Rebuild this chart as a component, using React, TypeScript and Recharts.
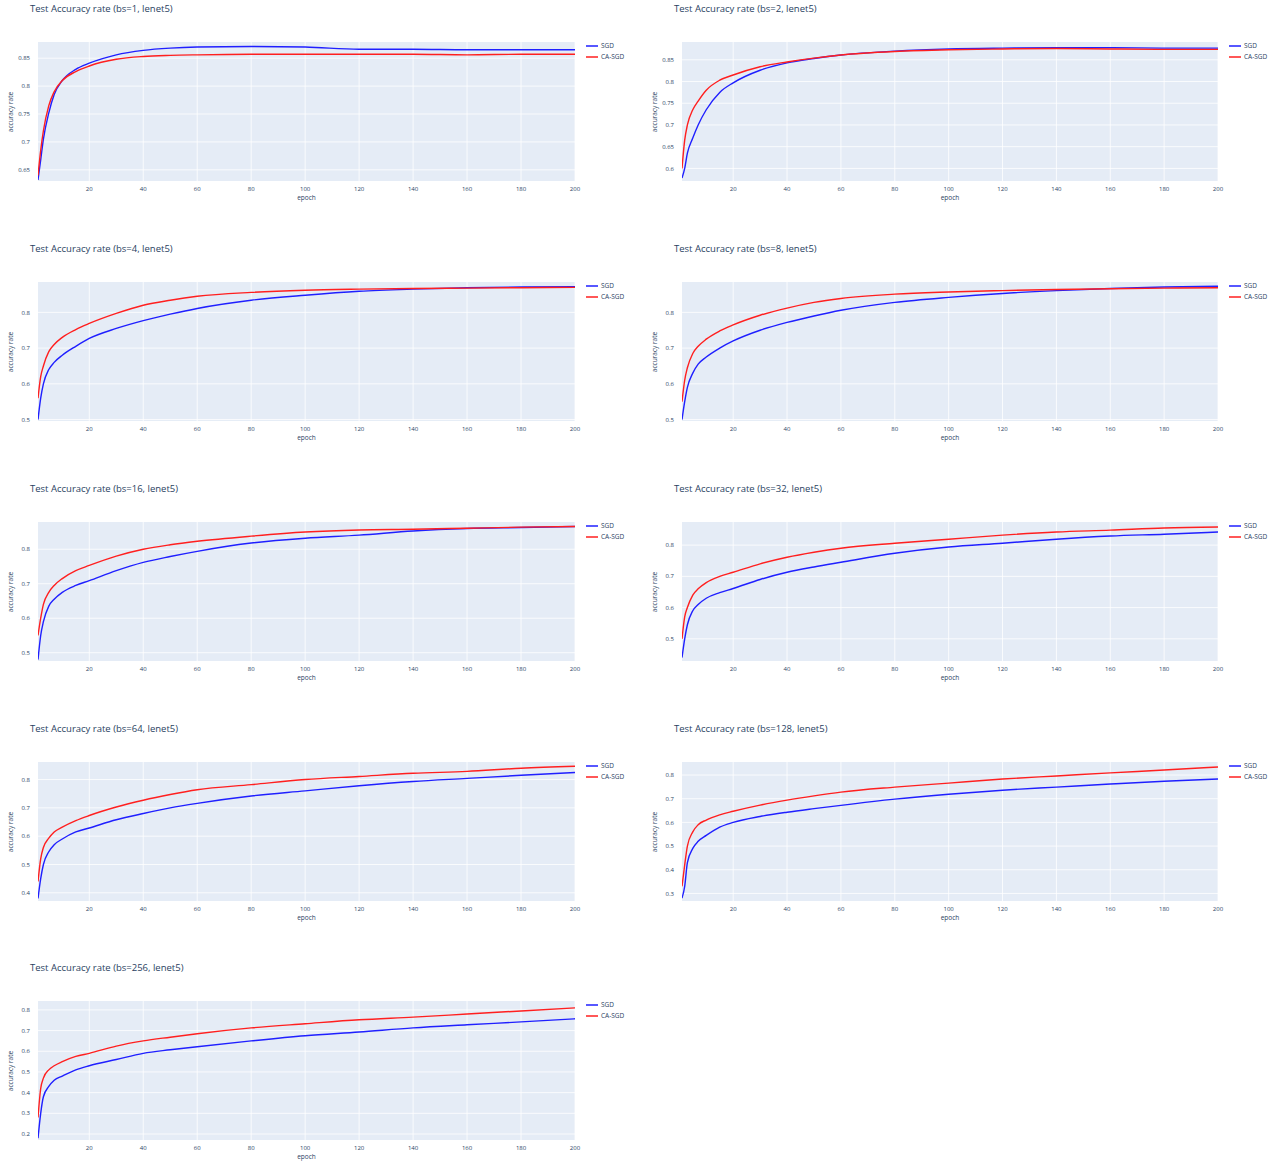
import React from 'react';
import { LineChart, Line, XAxis, YAxis, CartesianGrid } from 'recharts';

const EPOCHS = [1, 2, 3, 5, 7, 10, 15, 20, 30, 40, 50, 60, 80, 100, 120, 140, 160, 180, 200];
const X_TICKS = [20, 40, 60, 80, 100, 120, 140, 160, 180, 200];
const SERIES_NAMES = ['SGD', 'CA-SGD'];
const BATCH_SIZES = [1, 2, 4, 8, 16, 32, 64, 128, 256];

const SGD_BS1 = [0.632, 0.668, 0.705, 0.752, 0.785, 0.81, 0.83, 0.841, 0.856, 0.864, 0.868, 0.87, 0.871, 0.87, 0.866, 0.866, 0.865, 0.865, 0.865];
const CA_BS1 = [0.64, 0.685, 0.72, 0.765, 0.79, 0.81, 0.826, 0.836, 0.848, 0.853, 0.855, 0.856, 0.857, 0.857, 0.857, 0.857, 0.856, 0.857, 0.857];
const SGD_BS2 = [0.578, 0.6, 0.635, 0.67, 0.7, 0.735, 0.775, 0.797, 0.826, 0.843, 0.853, 0.861, 0.87, 0.875, 0.877, 0.878, 0.878, 0.877, 0.877];
const CA_BS2 = [0.6, 0.665, 0.7, 0.735, 0.755, 0.78, 0.803, 0.815, 0.834, 0.845, 0.854, 0.861, 0.869, 0.873, 0.875, 0.876, 0.875, 0.874, 0.874];
const SGD_BS4 = [0.5, 0.56, 0.6, 0.64, 0.66, 0.68, 0.705, 0.727, 0.755, 0.777, 0.795, 0.811, 0.834, 0.848, 0.859, 0.865, 0.869, 0.871, 0.872];
const CA_BS4 = [0.56, 0.62, 0.65, 0.69, 0.71, 0.73, 0.752, 0.769, 0.797, 0.82, 0.834, 0.845, 0.856, 0.862, 0.865, 0.867, 0.868, 0.869, 0.87];
const SGD_BS8 = [0.5, 0.55, 0.59, 0.63, 0.655, 0.675, 0.7, 0.72, 0.75, 0.772, 0.79, 0.806, 0.828, 0.842, 0.853, 0.861, 0.867, 0.871, 0.873];
const CA_BS8 = [0.55, 0.61, 0.645, 0.685, 0.705, 0.725, 0.748, 0.765, 0.792, 0.812, 0.828, 0.839, 0.851, 0.857, 0.861, 0.864, 0.866, 0.868, 0.869];
const SGD_BS16 = [0.48, 0.55, 0.59, 0.635, 0.655, 0.675, 0.695, 0.709, 0.738, 0.762, 0.779, 0.794, 0.818, 0.832, 0.841, 0.853, 0.86, 0.863, 0.866];
const CA_BS16 = [0.55, 0.6, 0.64, 0.675, 0.695, 0.715, 0.738, 0.753, 0.78, 0.8, 0.813, 0.823, 0.838, 0.85, 0.856, 0.858, 0.861, 0.864, 0.866];
const SGD_BS32 = [0.44, 0.5, 0.545, 0.59, 0.61, 0.63, 0.648, 0.661, 0.69, 0.713, 0.73, 0.745, 0.774, 0.794, 0.806, 0.819, 0.829, 0.835, 0.842];
const CA_BS32 = [0.5, 0.57, 0.6, 0.64, 0.66, 0.68, 0.7, 0.713, 0.74, 0.761, 0.777, 0.79, 0.806, 0.819, 0.832, 0.842, 0.848, 0.855, 0.858];
const SGD_BS64 = [0.38, 0.45, 0.5, 0.545, 0.57, 0.59, 0.615, 0.629, 0.658, 0.68, 0.7, 0.716, 0.742, 0.76, 0.778, 0.793, 0.804, 0.815, 0.825];
const CA_BS64 = [0.44, 0.52, 0.56, 0.593, 0.615, 0.632, 0.655, 0.673, 0.703, 0.727, 0.747, 0.764, 0.782, 0.8, 0.811, 0.822, 0.829, 0.84, 0.847];
const SGD_BS128 = [0.28, 0.33, 0.43, 0.49, 0.52, 0.545, 0.58, 0.6, 0.625, 0.643, 0.658, 0.672, 0.698, 0.719, 0.736, 0.749, 0.762, 0.774, 0.783];
const CA_BS128 = [0.33, 0.42, 0.5, 0.56, 0.59, 0.61, 0.632, 0.647, 0.673, 0.694, 0.712, 0.728, 0.749, 0.766, 0.783, 0.796, 0.809, 0.821, 0.834];
const SGD_BS256 = [0.18, 0.3, 0.38, 0.43, 0.46, 0.48, 0.51, 0.53, 0.56, 0.59, 0.607, 0.622, 0.65, 0.675, 0.693, 0.713, 0.728, 0.742, 0.757];
const CA_BS256 = [0.28, 0.42, 0.47, 0.51, 0.53, 0.55, 0.575, 0.59, 0.625, 0.65, 0.668, 0.685, 0.713, 0.733, 0.752, 0.765, 0.78, 0.795, 0.81];

const Y_TICKS_BS1 = [0.65, 0.7, 0.75, 0.8, 0.85];
const Y_TICKS_BS2 = [0.6, 0.65, 0.7, 0.75, 0.8, 0.85];
const Y_TICKS_BS4 = [0.5, 0.6, 0.7, 0.8];
const Y_TICKS_BS8 = [0.5, 0.6, 0.7, 0.8];
const Y_TICKS_BS16 = [0.5, 0.6, 0.7, 0.8];
const Y_TICKS_BS32 = [0.5, 0.6, 0.7, 0.8];
const Y_TICKS_BS64 = [0.4, 0.5, 0.6, 0.7, 0.8];
const Y_TICKS_BS128 = [0.3, 0.4, 0.5, 0.6, 0.7, 0.8];
const Y_TICKS_BS256 = [0.2, 0.3, 0.4, 0.5, 0.6, 0.7, 0.8];

const SGD_ALL = [SGD_BS1, SGD_BS2, SGD_BS4, SGD_BS8, SGD_BS16, SGD_BS32, SGD_BS64, SGD_BS128, SGD_BS256];
const CA_ALL = [CA_BS1, CA_BS2, CA_BS4, CA_BS8, CA_BS16, CA_BS32, CA_BS64, CA_BS128, CA_BS256];
const Y_TICKS_ALL = [Y_TICKS_BS1, Y_TICKS_BS2, Y_TICKS_BS4, Y_TICKS_BS8, Y_TICKS_BS16, Y_TICKS_BS32, Y_TICKS_BS64, Y_TICKS_BS128, Y_TICKS_BS256];
const Y_DOMAINS: [number, number][] = [
  [0.63, 0.879], [0.571, 0.891], [0.496, 0.885], [0.496, 0.885], [0.476, 0.879],
  [0.429, 0.874], [0.371, 0.862], [0.268, 0.855], [0.171, 0.843],
];

const FONT = '"Open Sans", "Noto Sans", sans-serif';
const TEXT = '#2a3f5f';
const BLUE = '#1f1fff';
const RED = '#ff1f1f';

const COL_LEFT = [38, 682];
const COL_W = [537, 536];
const ROW_TOP = [42, 282, 522, 762, 1001];
const PLOT_H = 139;
const Y_AXIS_W = 40;
const X_AXIS_H = 14;
const RIGHT_PAD = 12;

function LegendBox({ left, top }: { left: number; top: number }) {
  const colors = [BLUE, RED];
  return (
    <div style={{ position: 'absolute', left, top, fontFamily: FONT, fontSize: 6.5, color: TEXT, whiteSpace: 'nowrap' }}>
      {SERIES_NAMES.map((n, i) => (
        <div key={n} style={{ display: 'flex', alignItems: 'center', height: 11 }}>
          <svg width={12} height={4} style={{ marginRight: 3 }}>
            <line x1={0} y1={2} x2={12} y2={2} stroke={colors[i]} strokeWidth={1.5} />
          </svg>
          <span>{n}</span>
        </div>
      ))}
    </div>
  );
}

function SubPlot({ idx }: { idx: number }) {
  const col = idx % 2;
  const row = Math.floor(idx / 2);
  const plotLeft = COL_LEFT[col];
  const plotW = COL_W[col];
  const plotTop = ROW_TOP[row];
  const chartW = Y_AXIS_W + plotW + RIGHT_PAD;
  const chartH = 5 + PLOT_H + X_AXIS_H;
  const data = EPOCHS.map((e, i) => ({ epoch: e, sgd: SGD_ALL[idx][i], ca: CA_ALL[idx][i] }));
  const title = `Test Accuracy rate (bs=${BATCH_SIZES[idx]}, lenet5)`;
  return (
    <>
      <div style={{ position: 'absolute', left: plotLeft - 8, top: plotTop - 40, fontFamily: FONT, fontSize: 9.5, color: TEXT, whiteSpace: 'nowrap' }}>
        {title}
      </div>
      <div style={{ position: 'absolute', left: plotLeft - 28, top: plotTop + PLOT_H / 2, fontFamily: FONT, fontSize: 6.5, color: TEXT, whiteSpace: 'nowrap', transform: 'translate(-50%, -50%) rotate(-90deg)' }}>
        accuracy rate
      </div>
      <div style={{ position: 'absolute', left: plotLeft + plotW / 2, top: plotTop + PLOT_H + 12, fontFamily: FONT, fontSize: 6.5, color: TEXT, whiteSpace: 'nowrap', transform: 'translateX(-50%)' }}>
        epoch
      </div>
      <LegendBox left={plotLeft + plotW + 11} top={plotTop - 2} />
      <div style={{ position: 'absolute', left: plotLeft - Y_AXIS_W, top: plotTop - 5 }}>
        <LineChart width={chartW} height={chartH} data={data} margin={{ top: 5, right: RIGHT_PAD, bottom: 0, left: 0 }}>
          <CartesianGrid fill="#E5ECF6" stroke="#ffffff" strokeWidth={0.8} verticalValues={X_TICKS} horizontalValues={Y_TICKS_ALL[idx]} />
          <XAxis
            dataKey="epoch"
            type="number"
            domain={[1, 200]}
            ticks={X_TICKS}
            axisLine={false}
            tickLine={false}
            height={X_AXIS_H}
            tickMargin={0}
            interval={0}
            tick={{ fontSize: 6, fill: TEXT, fontFamily: FONT }}
            allowDataOverflow
          />
          <YAxis
            type="number"
            domain={Y_DOMAINS[idx]}
            ticks={Y_TICKS_ALL[idx]}
            axisLine={false}
            tickLine={false}
            width={Y_AXIS_W}
            tickMargin={2}
            interval={0}
            tickFormatter={(v: number) => String(Math.round(v * 100) / 100)}
            tick={{ fontSize: 6, fill: TEXT, fontFamily: FONT }}
            allowDataOverflow
          />
          <Line type="monotone" dataKey="sgd" name={SERIES_NAMES[0]} stroke={BLUE} strokeWidth={1.4} dot={false} isAnimationActive={false} />
          <Line type="monotone" dataKey="ca" name={SERIES_NAMES[1]} stroke={RED} strokeWidth={1.4} dot={false} isAnimationActive={false} />
        </LineChart>
      </div>
    </>
  );
}

export default function App() {
  return (
    <div style={{ position: 'absolute', left: 0, top: 0, width: 1277, height: 1166, background: '#ffffff', overflow: 'hidden' }}>
      {BATCH_SIZES.map((_, i) => (
        <SubPlot key={i} idx={i} />
      ))}
    </div>
  );
}
